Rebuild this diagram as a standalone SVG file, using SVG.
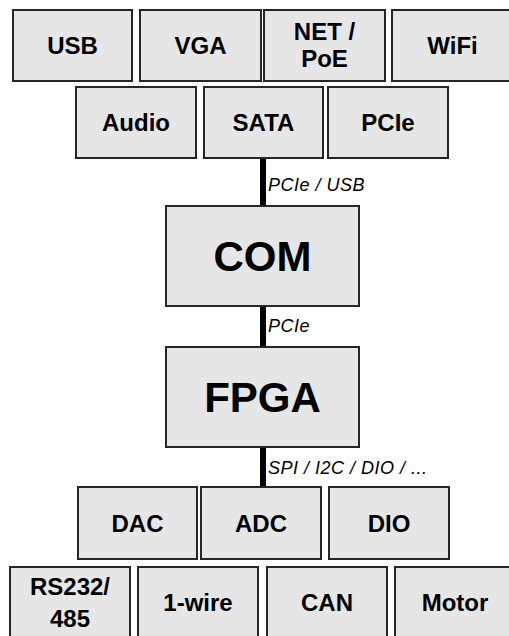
<svg xmlns="http://www.w3.org/2000/svg" width="509" height="636" viewBox="0 0 509 636">
<style>
.box{fill:#e6e6e6;stroke:#262626;stroke-width:2}
.t{font-family:"Liberation Sans",Arial,sans-serif;font-weight:bold;font-size:24px;fill:#000;text-anchor:middle}
.big{font-size:42px}
.lbl{font-family:"Liberation Sans",Arial,sans-serif;font-style:italic;font-size:18px;letter-spacing:0.5px;fill:#000}
.wire{stroke:#000;stroke-width:6;fill:none}
</style>
<rect width="509" height="636" fill="#fff"/>
<g id="connectors">
<line class="wire" x1="263" y1="158" x2="263" y2="206"/>
<line class="wire" x1="263" y1="306" x2="263" y2="347"/>
<line class="wire" x1="263" y1="447" x2="263" y2="487"/>
<text class="lbl" x="268" y="191">PCIe / USB</text>
<text class="lbl" x="268" y="332">PCIe</text>
<text class="lbl" x="268" y="474">SPI / I2C / DIO / ...</text>
</g>
<g id="usb"><rect class="box" x="13" y="10" width="119" height="71"/><text class="t" x="72.5" y="54">USB</text></g>
<g id="vga"><rect class="box" x="140" y="10" width="121" height="71"/><text class="t" x="200.5" y="54">VGA</text></g>
<g id="net"><rect class="box" x="264" y="10" width="121" height="71"/><text class="t" x="324.5" y="40">NET /</text><text class="t" x="324.5" y="66.5">PoE</text></g>
<g id="wifi"><rect class="box" x="392" y="10" width="125" height="71"/><text class="t" x="452.5" y="54">WiFi</text></g>
<g id="audio"><rect class="box" x="76" y="87" width="120" height="71"/><text class="t" x="136" y="131">Audio</text></g>
<g id="sata"><rect class="box" x="204" y="87" width="119" height="71"/><text class="t" x="263.5" y="131">SATA</text></g>
<g id="pcie"><rect class="box" x="328" y="87" width="120" height="71"/><text class="t" x="388" y="131">PCIe</text></g>
<g id="com"><rect class="box" x="166" y="206" width="193" height="100"/><text class="t big" x="262.5" y="271">COM</text></g>
<g id="fpga"><rect class="box" x="166" y="347" width="193" height="100"/><text class="t big" x="262.5" y="412">FPGA</text></g>
<g id="dac"><rect class="box" x="78" y="487" width="119" height="72"/><text class="t" x="137.5" y="531.5">DAC</text></g>
<g id="adc"><rect class="box" x="201" y="487" width="120" height="72"/><text class="t" x="261" y="531.5">ADC</text></g>
<g id="dio"><rect class="box" x="329" y="487" width="120" height="72"/><text class="t" x="389" y="531.5">DIO</text></g>
<g id="rs232"><rect class="box" x="10" y="567" width="120" height="75"/><text class="t" x="70" y="595">RS232/</text><text class="t" x="70" y="626.5">485</text></g>
<g id="onewire"><rect class="box" x="138" y="567" width="120" height="75"/><text class="t" x="198" y="610.5">1-wire</text></g>
<g id="can"><rect class="box" x="267" y="567" width="120" height="75"/><text class="t" x="327" y="610.5">CAN</text></g>
<g id="motor"><rect class="box" x="395" y="567" width="125" height="75"/><text class="t" x="455" y="610.5">Motor</text></g>
</svg>
